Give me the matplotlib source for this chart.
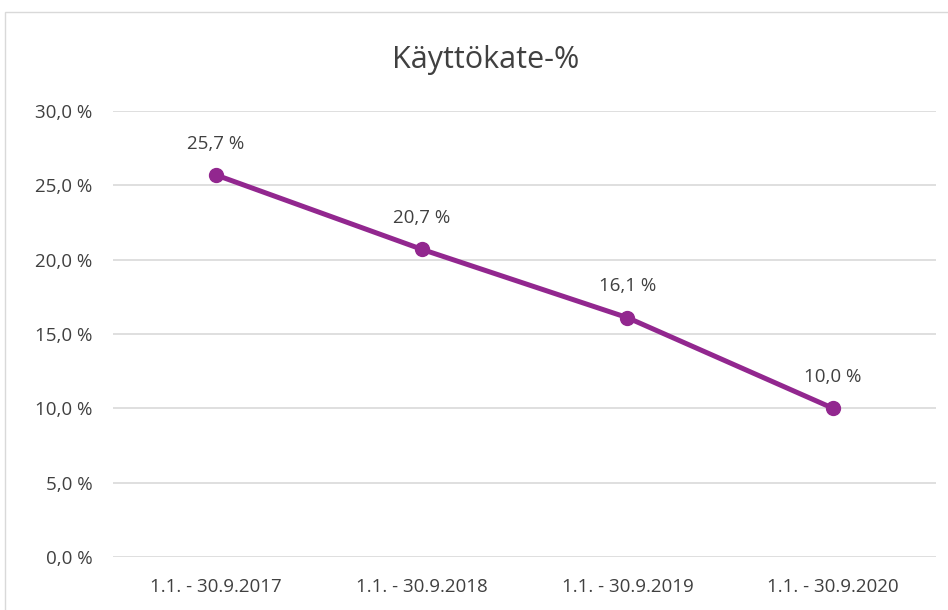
import numpy as np
import matplotlib.pyplot as plt
from matplotlib.patches import Rectangle
from matplotlib.ticker import FuncFormatter

# data
categories = ['1.1. - 30.9.2017', '1.1. - 30.9.2018', '1.1. - 30.9.2019', '1.1. - 30.9.2020']
values = [25.7, 20.7, 16.1, 10.0]
yticks = [0, 5, 10, 15, 20, 25, 30]

W, H = 948, 610
purple = '#92278f'
text_col = '#404040'

plt.rcParams['font.family'] = ['Open Sans', 'DejaVu Sans']

fig = plt.figure(figsize=(W / 100, H / 100), dpi=100)

# chart border (cut off on right and bottom like the reference)
fig.patches.append(Rectangle((5 / W, -0.05), 1.1, 1 - 12 / H + 0.05,
                             transform=fig.transFigure, fill=False,
                             edgecolor='#d9d9d9', linewidth=1))

ax = fig.add_axes([113 / W, 1 - 557 / H, (936 - 113) / W, (557 - 111) / H])

x = np.arange(len(categories))
ax.plot(x, values, color=purple, linewidth=3.6, marker='o', markersize=10,
        solid_capstyle='round', zorder=3)

for xi, v in zip(x, values):
    ax.annotate(f'{v:.1f} %'.replace('.', ','), (xi, v), xytext=(0, 16),
                textcoords='offset points', ha='center', va='bottom',
                fontsize=13.5, color=text_col)

ax.set_xlim(-0.5, len(categories) - 0.5)
ax.set_ylim(0, 30)
ax.set_yticks(yticks)
ax.yaxis.set_major_formatter(FuncFormatter(lambda v, p: f'{v:.1f} %'.replace('.', ',')))
ax.set_xticks(x)
ax.set_xticklabels(categories)

ax.grid(axis='y', color='#d9d9d9', linewidth=1.2)
ax.set_axisbelow(True)
for s in ax.spines.values():
    s.set_visible(False)
ax.tick_params(length=0, labelsize=13.5, labelcolor=text_col)
ax.tick_params(axis='y', pad=15)
ax.tick_params(axis='x', pad=15)

fig.text(486 / W, 1 - 60 / H, 'Käyttökate-%', ha='center', va='center',
         fontsize=22, color=text_col)

fig.savefig('out.png', dpi=100)
